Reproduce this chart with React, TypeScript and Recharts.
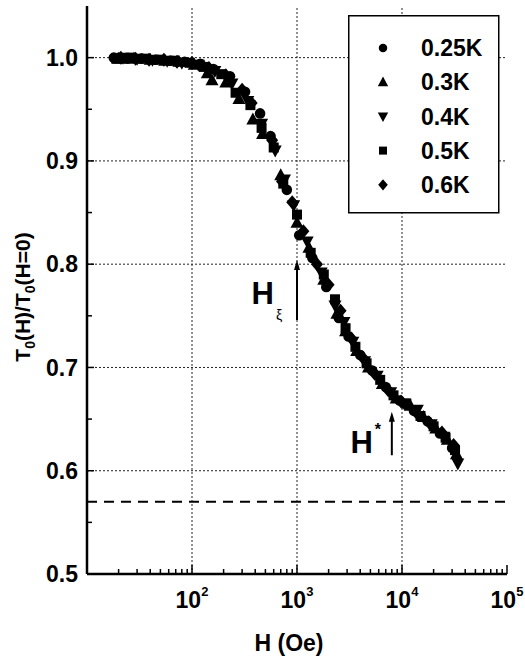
import React from "react";
import { ScatterChart, Scatter, XAxis, YAxis, ReferenceLine, Legend } from "recharts";

// T0(H)/T0(H=0) versus H (Oe)
const temps = ["0.25K", "0.3K", "0.4K", "0.5K", "0.6K"];
const kinds = ["circle", "up", "down", "square", "diamond"];

const t025 = [
  [18, 1.0], [24, 0.999], [33, 0.999], [45, 0.998], [62, 0.997], [85, 0.996], [120, 0.994],
  [160, 0.989], [230, 0.982], [320, 0.967], [445, 0.946], [560, 0.924], [800, 0.872],
  [1050, 0.828], [1400, 0.806], [1900, 0.778], [2500, 0.748], [3100, 0.73], [4000, 0.712],
  [5200, 0.697], [7000, 0.681], [9500, 0.668], [13000, 0.658], [17500, 0.648], [23000, 0.636],
  [30000, 0.622],
];
const t03 = [
  [20, 0.999], [28, 0.999], [40, 0.998], [55, 0.997], [75, 0.996], [105, 0.993], [140, 0.985],
  [155, 0.978], [210, 0.976], [280, 0.96], [380, 0.94], [470, 0.926], [700, 0.886],
  [1000, 0.84], [1300, 0.816], [1800, 0.785], [2400, 0.752], [2900, 0.735], [3700, 0.716],
  [4800, 0.7], [6500, 0.684], [8800, 0.67], [12000, 0.663], [16000, 0.652], [21000, 0.641],
  [27000, 0.63], [33000, 0.616],
];
const t04 = [
  [22, 1.0], [30, 0.999], [42, 0.998], [58, 0.997], [80, 0.995], [115, 0.993], [165, 0.987],
  [240, 0.975], [340, 0.958], [460, 0.936], [620, 0.91], [760, 0.882], [930, 0.857],
  [1250, 0.822], [1700, 0.792], [2300, 0.76], [2800, 0.744], [3400, 0.725], [4400, 0.706],
  [5800, 0.692], [7800, 0.676], [10500, 0.665], [14000, 0.659], [19000, 0.645], [25000, 0.633],
  [34000, 0.607],
];
const t05 = [
  [19, 0.999], [26, 1.0], [36, 0.999], [50, 0.998], [68, 0.997], [95, 0.995], [130, 0.991],
  [190, 0.984], [260, 0.966], [360, 0.954], [460, 0.932], [600, 0.913], [740, 0.878],
  [1000, 0.848], [1350, 0.811], [1800, 0.79], [2300, 0.766], [2900, 0.738], [3600, 0.72],
  [4600, 0.704], [6200, 0.688], [8300, 0.673], [11000, 0.665], [15000, 0.653], [20000, 0.643],
  [26000, 0.632], [32000, 0.62],
];
const t06 = [
  [21, 1.0], [29, 0.999], [39, 0.998], [54, 0.998], [72, 0.996], [100, 0.995], [145, 0.99],
  [210, 0.983], [300, 0.969], [370, 0.956], [580, 0.92], [720, 0.88], [900, 0.86],
  [1150, 0.832], [1550, 0.8], [2000, 0.78], [2600, 0.755], [3300, 0.728], [4200, 0.71],
  [5500, 0.694], [7400, 0.678], [9800, 0.667], [13500, 0.657], [18000, 0.647], [24000, 0.637],
  [31000, 0.625],
];
const seriesRows = [t025, t03, t04, t05, t06];

const xMajor = [100, 1000, 10000, 100000];
const xMinor = [
  20, 30, 40, 50, 60, 70, 80, 90, 200, 300, 400, 500, 600, 700, 800, 900,
  2000, 3000, 4000, 5000, 6000, 7000, 8000, 9000, 20000, 30000, 40000, 50000, 60000, 70000, 80000, 90000,
];
const yMajor = [0.5, 0.6, 0.7, 0.8, 0.9, 1.0];
const yMinor = [0.55, 0.65, 0.75, 0.85, 0.95];
const gridX = [100, 1000, 10000];
const gridY = [0.6, 0.7, 0.8, 0.9, 1.0];
const dashedLevel = 0.57;
const hXiArrow = { h: 1000, from: 0.746, to: 0.804 };
const hStarArrow = { h: 8000, from: 0.615, to: 0.657 };

const FONT = "'Liberation Sans', Arial, Helvetica, sans-serif";
const toPoints = (rows: number[][]) => rows.map(([h, v]) => ({ h, v }));

function Mark({ cx, cy, kind, s = 1 }: { cx: number; cy: number; kind: string; s?: number }) {
  if (cx == null || cy == null) return null;
  if (kind === "circle") return <circle cx={cx} cy={cy} r={5.3 * s} fill="#000" />;
  if (kind === "up")
    return <polygon points={`${cx},${cy - 7 * s} ${cx + 6.5 * s},${cy + 5 * s} ${cx - 6.5 * s},${cy + 5 * s}`} fill="#000" />;
  if (kind === "down")
    return <polygon points={`${cx},${cy + 7 * s} ${cx + 6.5 * s},${cy - 5 * s} ${cx - 6.5 * s},${cy - 5 * s}`} fill="#000" />;
  if (kind === "square") return <rect x={cx - 5 * s} y={cy - 5 * s} width={10 * s} height={10 * s} fill="#000" />;
  return <polygon points={`${cx},${cy - 7 * s} ${cx + 6 * s},${cy} ${cx},${cy + 7 * s} ${cx - 6 * s},${cy}`} fill="#000" />;
}

const BottomTick = ({ x, y, payload }: any) => {
  const major = xMajor.includes(payload.value);
  const exp = Math.round(Math.log10(payload.value));
  return (
    <g>
      <line x1={x} x2={x} y1={y} y2={y - (major ? 9 : 5)} stroke="#000" strokeWidth={1.5} />
      {major && (
        <text x={x} y={y + 34} textAnchor="middle" fontFamily={FONT} fontWeight="bold" fontSize={23} fill="#000">
          <tspan>10</tspan>
          <tspan dy={-12} fontSize={13}>{exp}</tspan>
        </text>
      )}
    </g>
  );
};

const TopTick = ({ x, y, payload }: any) => {
  const major = xMajor.includes(payload.value);
  return <line x1={x} x2={x} y1={y} y2={y + (major ? 8 : 4)} stroke="#000" strokeWidth={1.5} />;
};

const LeftTick = ({ x, y, payload }: any) => {
  const major = yMajor.includes(payload.value);
  return (
    <g>
      <line x1={x} x2={x + (major ? 7 : 5)} y1={y} y2={y} stroke="#000" strokeWidth={1.5} />
      {major && (
        <text x={x - 9} y={y} dy="0.36em" textAnchor="end" fontFamily={FONT} fontWeight="bold" fontSize={23} fill="#000">
          {payload.value.toFixed(1)}
        </text>
      )}
    </g>
  );
};

const RightTick = ({ x, y, payload }: any) => {
  const major = yMajor.includes(payload.value);
  return <line x1={x} x2={x - (major ? 7 : 5)} y1={y} y2={y} stroke="#000" strokeWidth={1.5} />;
};

const YLabel = ({ viewBox }: any) => {
  const cx = viewBox.x + 22;
  const cy = viewBox.y + viewBox.height / 2 + 7;
  return (
    <text x={cx} y={cy} transform={`rotate(-90 ${cx} ${cy})`} textAnchor="middle" dy="0.36em"
      fontFamily={FONT} fontWeight="bold" fontSize={21} fill="#000">
      <tspan>T</tspan>
      <tspan dy={5} fontSize={14}>0</tspan>
      <tspan dy={-5}>(H)/T</tspan>
      <tspan dy={5} fontSize={14}>0</tspan>
      <tspan dy={-5}>(H=0)</tspan>
    </text>
  );
};

const XLabel = ({ viewBox }: any) => (
  <text x={viewBox.x + viewBox.width / 2 - 8} y={viewBox.y + 77} textAnchor="middle"
    fontFamily={FONT} fontWeight="bold" fontSize={23} fill="#000">
    H (Oe)
  </text>
);

const arrowShape = (which: "xi" | "star") => (p: any) => {
  const x = p.x1;
  const top = Math.min(p.y1, p.y2);
  const bottom = Math.max(p.y1, p.y2);
  return (
    <g>
      <line x1={x} x2={x} y1={bottom} y2={top + 8} stroke="#000" strokeWidth={2} />
      <polygon points={`${x},${top} ${x - 3},${top + 10} ${x + 3},${top + 10}`} fill="#000" />
      {which === "xi" ? (
        <g fontFamily={FONT} fill="#000">
          <text x={x - 23} y={bottom - 16} textAnchor="end" fontWeight="bold" fontSize={31}>H</text>
          <text x={x - 21} y={bottom} fontSize={14}>ξ</text>
        </g>
      ) : (
        <g fontFamily={FONT} fill="#000">
          <text x={x - 19} y={bottom - 2} textAnchor="end" fontWeight="bold" fontSize={31}>H</text>
          <text x={x - 17} y={bottom - 20} fontWeight="bold" fontSize={16}>*</text>
        </g>
      )}
    </g>
  );
};

const LegendBox = () => (
  <svg width={152} height={199}>
    <rect x={0.75} y={0.75} width={150} height={197} fill="#fff" stroke="#000" strokeWidth={1.5} />
    {temps.map((t, i) => (
      <g key={t}>
        <Mark cx={35} cy={33 + i * 34.2} kind={kinds[i]} s={0.8} />
        <text x={73} y={33 + i * 34.2} dy="0.36em" fontFamily={FONT} fontWeight="bold" fontSize={23} fill="#000">
          {t}
        </text>
      </g>
    ))}
  </svg>
);

export default function App() {
  return (
    <div style={{ position: "absolute", left: 0, top: 0, width: 525, height: 658, background: "#fff" }}>
      <ScatterChart width={525} height={658} margin={{ top: 6, right: 18, bottom: 0, left: 0 }}>
        <XAxis
          xAxisId="bottom"
          dataKey="h"
          type="number"
          scale="log"
          domain={[10, 100000]}
          allowDataOverflow
          ticks={[...xMajor, ...xMinor]}
          interval={0}
          height={84}
          tickSize={0}
          tickMargin={0}
          tick={BottomTick}
          tickLine={false}
          axisLine={{ stroke: "#000", strokeWidth: 2.5 }}
          label={XLabel}
        />
        <XAxis
          xAxisId="top"
          orientation="top"
          type="number"
          scale="log"
          domain={[10, 100000]}
          allowDataOverflow
          ticks={[...xMajor, ...xMinor]}
          interval={0}
          height={0}
          tickSize={0}
          tickMargin={0}
          tick={TopTick}
          tickLine={false}
          axisLine={{ stroke: "#000", strokeWidth: 2.5 }}
        />
        <YAxis
          yAxisId="left"
          dataKey="v"
          type="number"
          domain={[0.5, 1.05]}
          allowDataOverflow
          ticks={[...yMajor, ...yMinor]}
          interval={0}
          width={87}
          tickSize={0}
          tickMargin={0}
          tick={LeftTick}
          tickLine={false}
          axisLine={{ stroke: "#000", strokeWidth: 2.5 }}
          label={YLabel}
        />
        <YAxis
          yAxisId="right"
          orientation="right"
          type="number"
          domain={[0.5, 1.05]}
          allowDataOverflow
          ticks={[...yMajor, ...yMinor]}
          interval={0}
          width={0}
          tickSize={0}
          tickMargin={0}
          tick={RightTick}
          tickLine={false}
          axisLine={{ stroke: "#000", strokeWidth: 2.5 }}
        />
        {gridX.map((h) => (
          <ReferenceLine key={`gx${h}`} x={h} xAxisId="bottom" yAxisId="left" stroke="#222" strokeWidth={1} strokeDasharray="2 2" />
        ))}
        {gridY.map((v) => (
          <ReferenceLine key={`gy${v}`} y={v} xAxisId="bottom" yAxisId="left" stroke="#222" strokeWidth={1} strokeDasharray="2 2" />
        ))}
        <ReferenceLine y={dashedLevel} xAxisId="bottom" yAxisId="left" stroke="#000" strokeWidth={2} strokeDasharray="10 7" />
        <ReferenceLine
          xAxisId="bottom"
          yAxisId="left"
          segment={[{ x: hXiArrow.h, y: hXiArrow.from }, { x: hXiArrow.h, y: hXiArrow.to }]}
          shape={arrowShape("xi")}
        />
        <ReferenceLine
          xAxisId="bottom"
          yAxisId="left"
          segment={[{ x: hStarArrow.h, y: hStarArrow.from }, { x: hStarArrow.h, y: hStarArrow.to }]}
          shape={arrowShape("star")}
        />
        {seriesRows.map((rows, i) => (
          <Scatter
            key={temps[i]}
            name={temps[i]}
            data={toPoints(rows)}
            xAxisId="bottom"
            yAxisId="left"
            fill="#000"
            isAnimationActive={false}
            shape={(p: any) => <Mark cx={p.cx} cy={p.cy} kind={kinds[i]} />}
          />
        ))}
        <Legend
          layout="horizontal"
          verticalAlign="middle"
          align="center"
          content={LegendBox}
          wrapperStyle={{ position: "absolute", left: 348, top: 15, width: 152, height: 199 }}
        />
      </ScatterChart>
    </div>
  );
}
